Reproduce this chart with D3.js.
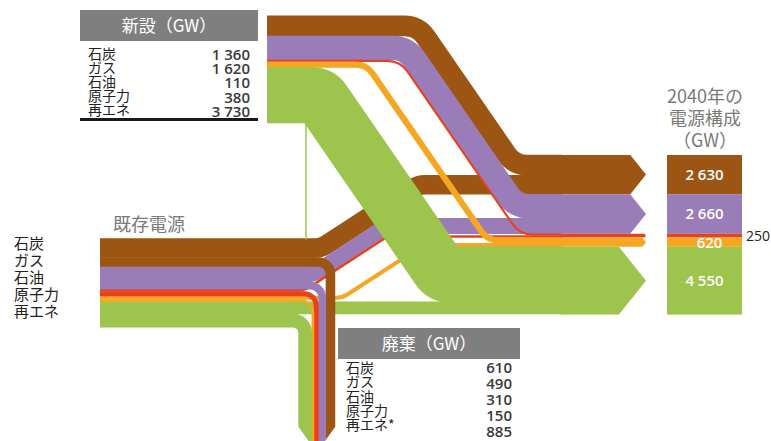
<!DOCTYPE html>
<html>
<head>
<meta charset="utf-8">
<script src="https://cdn.jsdelivr.net/npm/d3@7"></script>
<style>
  body { margin: 0; background: #fff; }
  svg { display: block; }
  text { font-family: "Noto Sans CJK JP", "Noto Sans", sans-serif; }
  .num { font-family: "Open Sans", "Liberation Sans", sans-serif; }
</style>
</head>
<body>
<svg id="chart" width="771" height="441"></svg>
<script>
// fuels, top to bottom
var fuels = ["石炭", "ガス", "石油", "原子力", "再エネ"];
var retiredLabels = ["石炭", "ガス", "石油", "原子力", "再エネ*"];
var newGW = [1360, 1620, 110, 380, 3730];
var retiredGW = [610, 490, 310, 150, 885];
var finalGW = [2630, 2660, 250, 620, 4550];

var colors = ["#9c5513", "#9a7cb8", "#e8411e", "#f5a724", "#9dc44c"];

// existing = 2040 total - new builds + retirements
var existingGW = finalGW.map(function (v, i) { return v - newGW[i] + retiredGW[i]; });
var keptGW = existingGW.map(function (v, i) { return v - retiredGW[i]; });

var svg = d3.select("#chart");
var gw = d3.scaleLinear().domain([0, 1000]).range([0, 14.9]);
var fmt = d3.formatLocale({decimal: ".", thousands: " ", grouping: [3], currency: ["", ""]}).format(",");

// layout
var xExist = 100, xNew = 267, xEnd = 560, xTip = 646;
var topExist = 238.5, topNew = 15.7, topFinal = 155;
var newDiagX = [466, 461, 460, 427, 381], newRadius = [25, 25, 25, 20, 12];
var keptDiagX = [370, 350, 346, 383, null];
var retireRight = 335, retireTaperY = 427;
var colX = 667, colW = 75;

function stack(values, top) {
  var y = top;
  return values.map(function (v) { var a = y; y += gw(v); return [a, y]; });
}
function mid(s) { return (s[0] + s[1]) / 2; }

var existSeq = stack(d3.merge(fuels.map(function (f, i) { return [keptGW[i], retiredGW[i]]; })), topExist);
var keptLeft = fuels.map(function (f, i) { return existSeq[2 * i]; });
var retiredLeft = fuels.map(function (f, i) { return existSeq[2 * i + 1]; });
var rightSeq = stack(d3.merge(fuels.map(function (f, i) { return [newGW[i], keptGW[i]]; })), topFinal);
var newRight = fuels.map(function (f, i) { return rightSeq[2 * i]; });
var keptRight = fuels.map(function (f, i) { return rightSeq[2 * i + 1]; });
var newLeft = stack(newGW, topNew);
var finalStack = stack(finalGW, topFinal);

// horizontal -> diagonal -> horizontal band centre line
function bend(x0, y0, x1, y1, xm, slope, r) {
  var p = d3.path();
  p.moveTo(x0, y0);
  if (xm == null) { p.lineTo(x1, y0); return p.toString(); }
  var half = Math.abs(y1 - y0) / 2 / slope;
  p.arcTo(xm - half, y0, xm + half, y1, r);
  p.arcTo(xm + half, y1, x1, y1, r);
  p.lineTo(x1, y1);
  return p.toString();
}
function drop(x0, y0, xv, yb, r) {
  var p = d3.path();
  p.moveTo(x0, y0);
  p.arcTo(xv, y0, xv, yb, r);
  p.lineTo(xv, yb);
  return p.toString();
}

// existing capacity that stays
svg.append("g").selectAll("path").data(fuels).enter().append("path")
  .attr("d", function (d, i) {
    return bend(xExist, mid(keptLeft[i]), xEnd + 2, mid(keptRight[i]), keptDiagX[i], 0.65, 20);
  })
  .attr("fill", "none")
  .attr("stroke", function (d, i) { return colors[i]; })
  .attr("stroke-width", function (d, i) { return gw(keptGW[i]) + 0.5; });

svg.append("line")
  .attr("x1", 306).attr("x2", 306).attr("y1", topNew + gw(d3.sum(newGW)) - 2).attr("y2", topExist + 1)
  .attr("stroke", colors[4]).attr("stroke-width", 1.5);

// new builds
svg.append("g").selectAll("path").data(fuels).enter().append("path")
  .attr("d", function (d, i) {
    return bend(xNew, mid(newLeft[i]), xEnd + 2, mid(newRight[i]), newDiagX[i], 1.45, newRadius[i]);
  })
  .attr("fill", "none")
  .attr("stroke", function (d, i) { return colors[i]; })
  .attr("stroke-width", function (d, i) { return gw(newGW[i]) + 0.5; });

// retirements turning down
var xr = retireRight;
var retiredX = retiredGW.map(function (v) { var c = xr - gw(v) / 2; xr -= gw(v); return c; });
var retireLeft = xr;
var tipX = (retireLeft + retireRight) / 2, tipY = retireTaperY + (retireRight - retireLeft) / 2 * 1.4;
svg.append("clipPath").attr("id", "taper").append("path")
  .attr("d", d3.line()([[0, 0], [771, 0], [771, retireTaperY], [retireRight, retireTaperY],
    [tipX, tipY], [retireLeft, retireTaperY], [0, retireTaperY]]) + "Z");

svg.append("g").attr("clip-path", "url(#taper)")
  .selectAll("path").data(fuels).enter().append("path")
  .attr("d", function (d, i) { return drop(xExist, mid(retiredLeft[i]), retiredX[i], 470, 12); })
  .attr("fill", "none")
  .attr("stroke", function (d, i) { return colors[i]; })
  .attr("stroke-width", function (d, i) { return gw(retiredGW[i]) + 0.5; });

// arrow heads
svg.append("g").selectAll("path").data(fuels).enter().append("path")
  .attr("d", function (d, i) {
    var s = finalStack[i], h = (s[1] - s[0]) / 2, bx = xTip - h * 0.8;
    return d3.line()([[xEnd, s[0]], [bx, s[0]], [xTip, mid(s)], [bx, s[1]], [xEnd, s[1]]]) + "Z";
  })
  .attr("fill", function (d, i) { return colors[i]; });

// 2040 column
var col = svg.append("g");
col.selectAll("rect").data(fuels).enter().append("rect")
  .attr("x", colX).attr("width", colW)
  .attr("y", function (d, i) { return finalStack[i][0]; })
  .attr("height", function (d, i) { return finalStack[i][1] - finalStack[i][0]; })
  .attr("fill", function (d, i) { return colors[i]; });
col.selectAll("text").data(fuels).enter().append("text")
  .attr("class", "num")
  .attr("x", function (d, i) { return i === 2 ? colX + colW + 4 : colX + colW / 2 + (i === 3 ? 5 : 0); })
  .attr("y", function (d, i) { return mid(finalStack[i]) + (i === 3 ? 1 : 0); })
  .attr("dy", "0.35em")
  .attr("text-anchor", function (d, i) { return i === 2 ? "start" : "middle"; })
  .attr("font-size", function (d, i) { return i === 2 ? 14 : 15; })
  .attr("font-weight", function (d, i) { return i === 2 ? 400 : 600; })
  .attr("fill", function (d, i) { return i === 2 ? "#222" : "#fff"; })
  .text(function (d, i) { return fmt(finalGW[i]); });

// multi-line text block
function block(x, y0, step, lines, size, fill, anchor, cls) {
  var t = svg.append("text").attr("font-size", size).attr("fill", fill)
    .attr("text-anchor", anchor || "start");
  if (cls) t.attr("class", cls);
  t.selectAll("tspan").data(lines).enter().append("tspan")
    .attr("x", x).attr("y", function (d, i) { return y0 + (typeof step === "function" ? step(i) : step * i); })
    .attr("dy", "0.35em")
    .text(function (d) { return d; });
  return t;
}

block(705, 97, 22, ["2040年の", "電源構成", "（GW）"], 18, "#7a7a7a", "middle");

// left labels
svg.append("text").attr("x", 113).attr("y", 225).attr("dy", "0.35em")
  .attr("font-size", 18).attr("fill", "#7a7a7a").text("既存電源");
block(14, 244, 17, fuels, 15, "#222");

// tables
function table(x, y, w, title, labels, values, labelStep, valueStep, y1) {
  svg.append("rect").attr("x", x).attr("y", y).attr("width", w).attr("height", 31).attr("fill", "#7f7f7f");
  svg.append("text").attr("x", x + w / 2).attr("y", y + 16).attr("dy", "0.35em")
    .attr("text-anchor", "middle").attr("font-size", 17).attr("fill", "#fff").text(title);
  block(x + 8, y1, labelStep, labels, 14, "#222");
  block(x + w - 8, y1, valueStep, values.map(fmt), 15, "#3a3a3a", "end", "num")
    .attr("font-weight", 600);
}
table(80, 10, 178, "新設（GW）", fuels, newGW, 14, 14.3, 54.5);
svg.append("line").attr("x1", 80).attr("x2", 258).attr("y1", 119.5).attr("y2", 119.5)
  .attr("stroke", "#1a1a1a").attr("stroke-width", 3);
table(338, 328, 182, "廃棄（GW）", retiredLabels, retiredGW, 14.3, 16, 368);
</script>
</body>
</html>
